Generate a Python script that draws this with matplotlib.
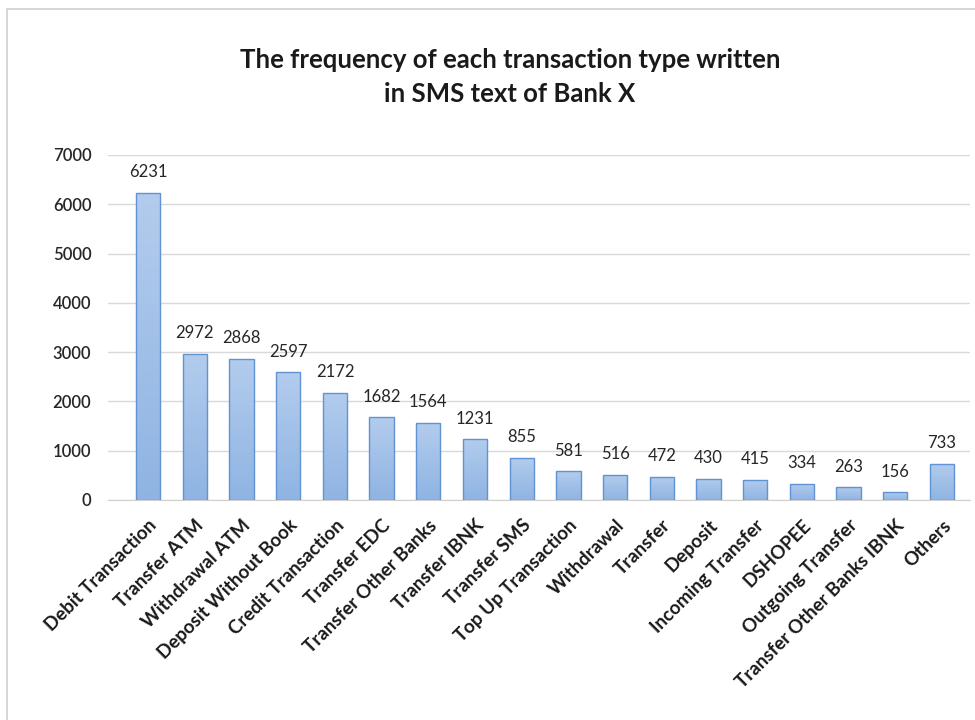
import matplotlib
matplotlib.use("Agg")
import matplotlib.pyplot as plt
import numpy as np
from matplotlib.patches import Rectangle

categories = ["Debit Transaction", "Transfer ATM", "Withdrawal ATM", "Deposit Without Book",
              "Credit Transaction", "Transfer EDC", "Transfer Other Banks", "Transfer IBNK",
              "Transfer SMS", "Top Up Transaction", "Withdrawal", "Transfer", "Deposit",
              "Incoming Transfer", "DSHOPEE", "Outgoing Transfer", "Transfer Other Banks IBNK",
              "Others"]
counts = [6231, 2972, 2868, 2597, 2172, 1682, 1564, 1231, 855, 581, 516, 472, 430, 415,
          334, 263, 156, 733]
yticks = [0, 1000, 2000, 3000, 4000, 5000, 6000, 7000]

plt.rcParams["font.family"] = ["Lato", "DejaVu Sans"]

fig = plt.figure(figsize=(9.75, 7.2), dpi=100)
ax = fig.add_axes([108 / 975, 1 - 500 / 720, 862 / 975, 345 / 720])

# outer chart frame (light gray, as in the screenshot)
fig.patches.append(Rectangle((7 / 975, -0.01), 1.1, 1 - 9 / 720 + 0.01, transform=fig.transFigure,
                             fill=False, edgecolor="#d0d0d0", lw=1.2))

x = np.arange(len(categories))
bars = ax.bar(x, counts, width=0.52, color="none", edgecolor="#5f93d3", lw=1.0, zorder=3)

# vertical gradient fill for each bar
grad = np.linspace(0, 1, 256).reshape(-1, 1)
cmap = matplotlib.colors.LinearSegmentedColormap.from_list("g", ["#8fb4e3", "#b3cced"])
for b in bars:
    x0, w, h = b.get_x(), b.get_width(), b.get_height()
    im = ax.imshow(grad, extent=(x0, x0 + w, 0, h), origin="lower", cmap=cmap,
                   aspect="auto", zorder=2)
    im.set_clip_path(b)
    ax.annotate(str(int(h)), (x0 + w / 2, h), xytext=(0, 9), textcoords="offset points",
                ha="center", va="bottom", fontsize=12, color="#262626")

ax.set_xlim(-0.86, len(categories) - 1 + 0.6)
ax.set_ylim(0, 7000)
ax.set_yticks(yticks)
ax.set_yticklabels([str(v) for v in yticks], fontsize=12, fontweight="semibold", color="#262626")
ax.set_xticks(x)
ax.set_xticklabels(categories, rotation=45, ha="right", rotation_mode="anchor",
                   fontsize=13.5, fontweight="bold", color="#1a1a1a")
ax.tick_params(axis="both", length=0)
ax.tick_params(axis="y", pad=12)
ax.tick_params(axis="x", pad=12)
ax.grid(axis="y", color="#d9d9d9", lw=1, zorder=0)
ax.set_axisbelow(True)
for s in ("top", "right", "left"):
    ax.spines[s].set_visible(False)
ax.spines["bottom"].set_color("#d0d0d0")

fig.text(510 / 975, 1 - 77 / 720, "The frequency of each transaction type written\nin SMS text of Bank X",
         ha="center", va="center", fontsize=18.5, fontweight="bold", color="#1a1a1a",
         linespacing=1.45)

fig.savefig("out.png", dpi=100, facecolor="white")
